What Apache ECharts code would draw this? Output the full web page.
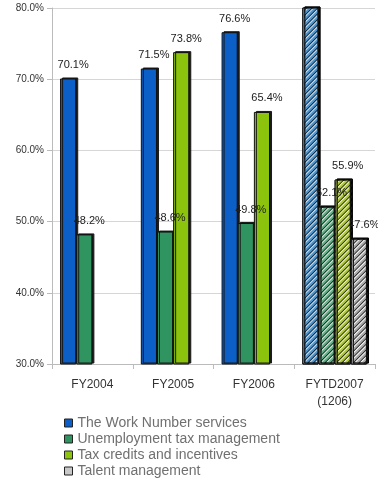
<!DOCTYPE html>
<html>
<head>
<meta charset="utf-8">
<script src="https://cdn.jsdelivr.net/npm/echarts@6/dist/echarts.min.js"></script>
<style>
  html, body { margin: 0; padding: 0; background: #fff; }
  #chart { width: 378px; height: 482px; }
</style>
</head>
<body>
<div id="chart"></div>
<script>
const categories = ['FY2004', 'FY2005', 'FY2006', 'FYTD2007\n(1206)'];
const seriesNames = [
  'The Work Number services',
  'Unemployment tax management',
  'Tax credits and incentives',
  'Talent management'
];
const workNumber = [70.1, 71.5, 76.6, 80.7];
const unemploymentTax = [48.2, 48.6, 49.8, 52.1];
const taxCredits = [null, 73.8, 65.4, 55.9];
const talent = [null, null, null, 47.6];

const solidColors = ['#0b5fc6', '#2f9460', '#8cc30c', '#c8c8c8'];
const lightColors = ['#b4daf3', '#c2e6d0', '#e8f39a', '#f0f0f0'];
const stripeColors = ['#4d93cf', '#5fae86', '#a9c53a', '#a8a8a8'];

const chart = echarts.init(document.getElementById('chart'));

const allValues = [workNumber, unemploymentTax, taxCredits, talent];

function buildData(values, idx) {
  return values.map((v, i) => {
    if (v === null) return null;
    // last category is year-to-date: hatched, lighter fill
    if (i === categories.length - 1) {
      return {
        value: v,
        itemStyle: {
          color: lightColors[idx],
          decal: {
            symbol: 'rect',
            symbolSize: 1,
            dashArrayX: [1, 0],
            dashArrayY: [1.2, 2],
            rotation: -Math.PI / 4,
            color: stripeColors[idx]
          }
        }
      };
    }
    return v;
  });
}

const option = {
  animation: false,
  grid: { left: 52, right: 3, top: 8, bottom: 118 },
  legend: {
    orient: 'vertical',
    left: 59,
    top: 411,
    height: 80,
    itemWidth: 8,
    itemHeight: 8,
    itemGap: 2,
    icon: 'rect',
    textStyle: { color: '#707070', fontSize: 14, lineHeight: 14, fontFamily: 'Liberation Sans' },
    data: seriesNames.map(n => ({ name: n, itemStyle: { borderColor: '#222', borderWidth: 1 } }))
  },
  xAxis: {
    type: 'category',
    data: categories,
    axisLine: { lineStyle: { color: '#bbb' } },
    axisTick: { show: true, lineStyle: { color: '#bbb' } },
    axisLabel: { color: '#333', fontSize: 12, fontFamily: 'Liberation Sans', margin: 12, lineHeight: 17 }
  },
  yAxis: {
    type: 'value',
    min: 30,
    max: 80,
    interval: 10,
    axisLine: { show: true, lineStyle: { color: '#bbb' } },
    axisTick: { show: true, lineStyle: { color: '#bbb' } },
    axisLabel: {
      color: '#333', fontSize: 10, fontFamily: 'Liberation Sans',
      formatter: v => v.toFixed(1) + '%'
    },
    splitLine: { lineStyle: { color: '#d6d6d6' } }
  },
  series: allValues.map((vals, idx) => ({
    name: seriesNames[idx],
    type: 'bar',
    barGap: '0%',
    barCategoryGap: '20%',
    data: buildData(vals, idx),
    itemStyle: {
      color: solidColors[idx],
      borderColor: '#111',
      borderWidth: 1,
      shadowColor: '#1a1a1a',
      shadowBlur: 0,
      shadowOffsetX: 2,
      shadowOffsetY: -1
    },
    label: {
      show: true,
      position: 'top',
      distance: 8,
      offset: [5, 0],
      color: '#222',
      fontSize: 11,
      fontFamily: 'Liberation Sans',
      formatter: p => p.value.toFixed(1) + '%'
    }
  }))
};

chart.setOption(option);
</script>
</body>
</html>
